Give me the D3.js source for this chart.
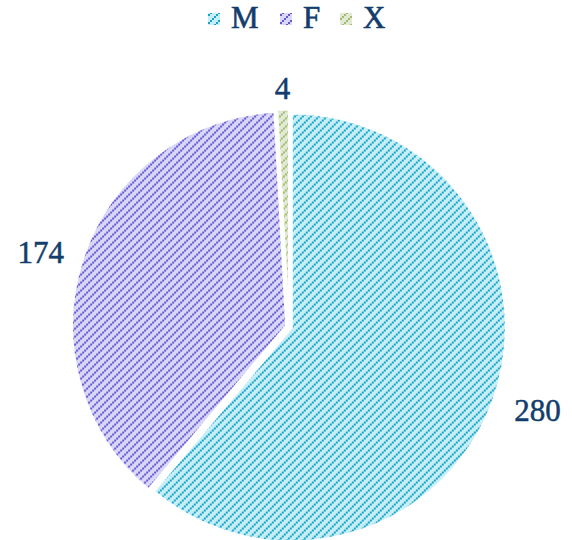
<!DOCTYPE html>
<html><head><meta charset="utf-8">
<script src="https://cdn.jsdelivr.net/npm/d3@7"></script>
<style>body{margin:0;background:#fff}svg{display:block}</style>
</head><body>
<script>
const categories = ["M", "F", "X"];
const values = [280, 174, 4];
const bgColors = ["#c6eff9", "#d9d8f8", "#e2e9d6"];
const lineColors = ["#1aa2c9", "#6657d2", "#9fbe6a"];

const W = 572, H = 540;
const cx = 289, cy = 326.5, r = 214, explode = 3;
const font = "'Liberation Serif', 'DejaVu Serif', serif";
const textColor = "#123d6c";

const svg = d3.select("body").append("svg").attr("width", W).attr("height", H);
const defs = svg.append("defs");
categories.forEach((c, i) => {
  const p = defs.append("pattern").attr("id", "pat" + i)
    .attr("patternUnits", "userSpaceOnUse").attr("width", 8).attr("height", 8);
  p.append("rect").attr("width", 8).attr("height", 8).attr("fill", bgColors[i]);
  [[6,0],[4,2],[2,4],[0,6]].forEach(([x,y]) =>
    p.append("rect").attr("x", x).attr("y", y).attr("width", 2).attr("height", 2).attr("fill", lineColors[i]));
});

const pie = d3.pie().sort(null).value(d => d)(values);
const arc = d3.arc().innerRadius(0).outerRadius(r);
const g = svg.append("g").attr("transform", `translate(${cx},${cy})`);

g.selectAll("path").data(pie).join("path")
  .attr("d", arc)
  .attr("transform", d => {
    const a = (d.startAngle + d.endAngle) / 2;
    return `translate(${explode*Math.sin(a)},${-explode*Math.cos(a)})`;
  })
  .attr("fill", (d, i) => `url(#pat${i})`)
  .attr("stroke", "#fff").attr("stroke-width", 2).attr("stroke-linejoin", "round");

// labels
g.selectAll("text.lbl").data(pie).join("text").attr("class", "lbl")
  .text(d => d.data)
  .attr("font-family", font).attr("font-size", 31).attr("fill", textColor)
  .attr("stroke", textColor).attr("stroke-width", 0.5)
  .attr("text-anchor", "middle").attr("dominant-baseline", "central")
  .each(function(d) {
    const a = (d.startAngle + d.endAngle) / 2;
    const bb = this.getBBox();
    const ext = Math.abs(Math.sin(a)) * bb.width / 2 * 1.3 + Math.abs(Math.cos(a)) * bb.height / 2 * 0.5;
    const R = r + 19 + ext;
    const dx = 3 * Math.abs(Math.sin(a)) * (Math.sin(a) < 0 ? 1 : 0);
    const dy = -9 * Math.sin(a) + 4 * Math.abs(Math.cos(a));
    d3.select(this).attr("x", R * Math.sin(a) + dx).attr("y", -R * Math.cos(a) + dy);
  });

// legend
const legendX = [208, 280, 340];
const leg = svg.append("g");
categories.forEach((c, i) => {
  const x = legendX[i];
  leg.append("rect").attr("x", x).attr("y", 13).attr("width", 12).attr("height", 12)
    .attr("fill", `url(#pat${i})`);
  leg.append("text").attr("x", x + 23).attr("y", 28).text(c)
    .attr("font-family", font).attr("font-size", 31).attr("fill", textColor)
    .attr("stroke", textColor).attr("stroke-width", 0.6);
});
</script>
</body></html>
